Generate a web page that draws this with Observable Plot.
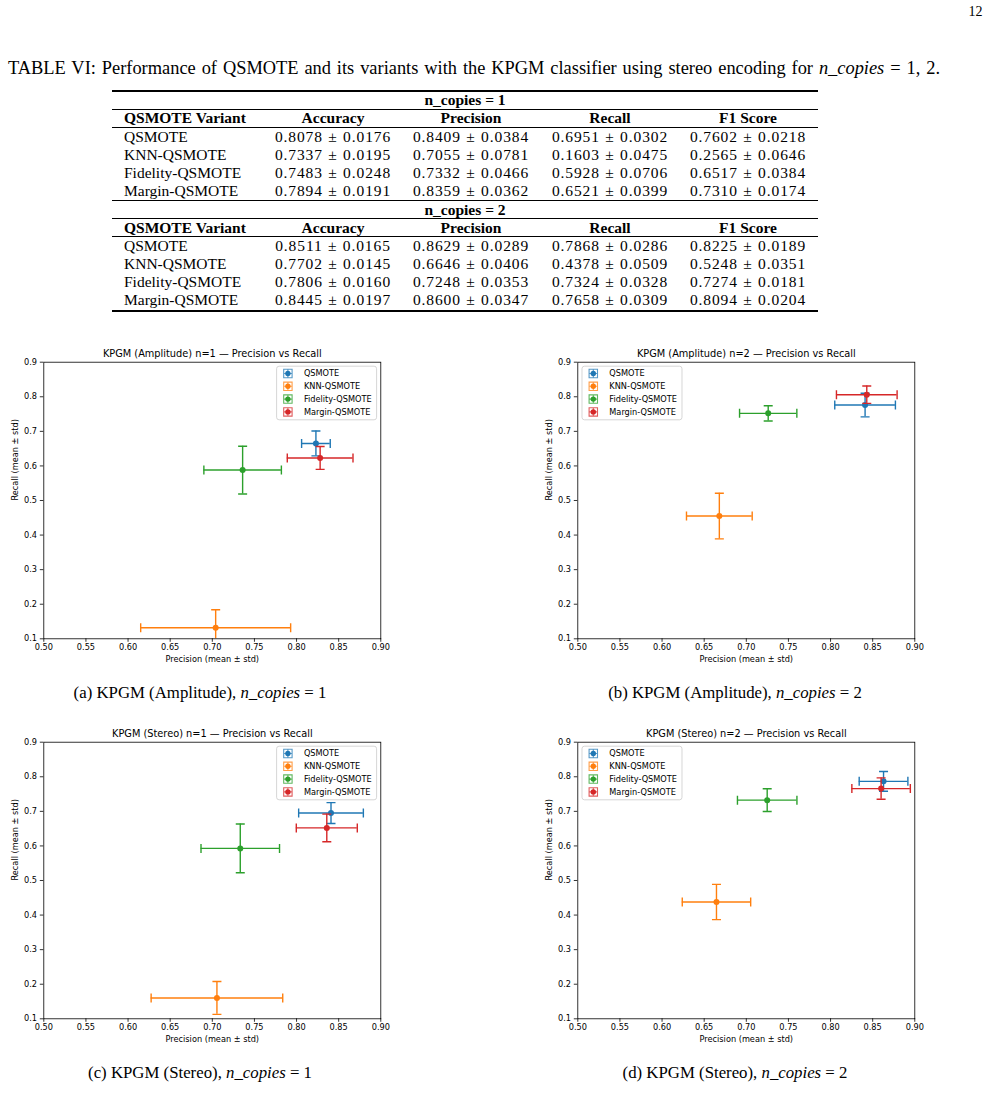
<!DOCTYPE html>
<html><head><meta charset="utf-8">
<script src="https://cdn.jsdelivr.net/npm/d3@7"></script>
<script src="https://cdn.jsdelivr.net/npm/@observablehq/plot@0.6"></script>
<style>
html,body{margin:0;padding:0;background:#fff;}
#page{position:relative;width:988px;height:1096px;overflow:hidden;font-family:"Liberation Serif","Times New Roman",serif;color:#000;}
.abs{position:absolute;white-space:nowrap;line-height:1;}
.num{letter-spacing:0.9px;word-spacing:0.6px;}
.rule{position:absolute;background:#000;left:112px;width:706px;}
.chart{position:absolute;}
</style></head><body><div id="page"></div>
<script>
// ---------- data ----------
const variants = ["QSMOTE", "KNN-QSMOTE", "Fidelity-QSMOTE", "Margin-QSMOTE"];
const metricNames = ["Accuracy", "Precision", "Recall", "F1 Score"];

// Stereo encoding (table VI)
const accuracyN1 = [0.8078, 0.7337, 0.7483, 0.7894];
const accuracyStdN1 = [0.0176, 0.0195, 0.0248, 0.0191];
const precisionN1 = [0.8409, 0.7055, 0.7332, 0.8359];
const precisionStdN1 = [0.0384, 0.0781, 0.0466, 0.0362];
const recallN1 = [0.6951, 0.1603, 0.5928, 0.6521];
const recallStdN1 = [0.0302, 0.0475, 0.0706, 0.0399];
const f1N1 = [0.7602, 0.2565, 0.6517, 0.7310];
const f1StdN1 = [0.0218, 0.0646, 0.0384, 0.0174];

const accuracyN2 = [0.8511, 0.7702, 0.7806, 0.8445];
const accuracyStdN2 = [0.0165, 0.0145, 0.0160, 0.0197];
const precisionN2 = [0.8629, 0.6646, 0.7248, 0.8600];
const precisionStdN2 = [0.0289, 0.0406, 0.0353, 0.0347];
const recallN2 = [0.7868, 0.4378, 0.7324, 0.7658];
const recallStdN2 = [0.0286, 0.0509, 0.0328, 0.0309];
const f1N2 = [0.8225, 0.5248, 0.7274, 0.8094];
const f1StdN2 = [0.0189, 0.0351, 0.0181, 0.0204];

// Amplitude encoding
const ampPrecisionN1 = [0.823, 0.704, 0.736, 0.828];
const ampPrecisionStdN1 = [0.017, 0.089, 0.046, 0.039];
const ampRecallN1 = [0.665, 0.132, 0.588, 0.623];
const ampRecallStdN1 = [0.036, 0.052, 0.069, 0.033];
const ampPrecisionN2 = [0.841, 0.668, 0.726, 0.843];
const ampPrecisionStdN2 = [0.036, 0.039, 0.034, 0.036];
const ampRecallN2 = [0.776, 0.455, 0.752, 0.806];
const ampRecallStdN2 = [0.034, 0.066, 0.022, 0.025];

const xTicks = [0.50, 0.55, 0.60, 0.65, 0.70, 0.75, 0.80, 0.85, 0.90];
const yTicks = [0.1, 0.2, 0.3, 0.4, 0.5, 0.6, 0.7, 0.8, 0.9];
const colors = ["#1f77b4", "#ff7f0e", "#2ca02c", "#d62728"];

// ---------- page helpers ----------
const page = document.getElementById("page");
function put(html, x, y, o = {}) {
  const d = document.createElement("div");
  d.className = "abs" + (o.cls ? " " + o.cls : "");
  d.innerHTML = html;
  d.style.left = x + "px";
  d.style.top = y + "px";
  d.style.fontSize = (o.size || 15.5) + "px";
  if (o.bold) d.style.fontWeight = "bold";
  const tx = o.anchor === "start" ? "0" : o.anchor === "end" ? "-100%" : "-50%";
  d.style.transform = `translate(${tx},-50%)`;
  page.appendChild(d);
  return d;
}
function rule(y, t) {
  const r = document.createElement("div");
  r.className = "rule";
  r.style.top = (y - t / 2) + "px";
  r.style.height = t + "px";
  page.appendChild(r);
}

put("12", 975.5, 12, {size: 14});
const cap = put('TABLE VI: Performance of QSMOTE and its variants with the KPGM classifier using stereo encoding for <i>n_copies</i> = 1, 2.', 8, 68, {size: 18.4, anchor: "start"});
cap.style.width = "932px";
cap.style.whiteSpace = "normal";
cap.style.textAlign = "justify";
cap.style.textAlignLast = "justify";

// ---------- table ----------
const colX = [333, 471, 610, 748];
function block(label, yTop, means, stds) {
  rule(yTop, 1.3);
  put(label, 465, yTop + 9, {bold: true});
  rule(yTop + 18, 0.8);
  put("QSMOTE Variant", 124, yTop + 27.3, {bold: true, anchor: "start"});
  metricNames.forEach((m, j) => put(m, colX[j], yTop + 27.3, {bold: true}));
  rule(yTop + 36, 0.8);
  variants.forEach((v, i) => {
    const y = yTop + 45.8 + i * 18;
    put(v, 124, y, {anchor: "start"});
    means.forEach((arr, j) => put(arr[i].toFixed(4) + " ± " + stds[j][i].toFixed(4), colX[j], y, {cls: "num"}));
  });
}
block("n_copies = 1", 91, [accuracyN1, precisionN1, recallN1, f1N1], [accuracyStdN1, precisionStdN1, recallStdN1, f1StdN1]);
block("n_copies = 2", 200.5, [accuracyN2, precisionN2, recallN2, f1N2], [accuracyStdN2, precisionStdN2, recallStdN2, f1StdN2]);
rule(311, 1.3);

// ---------- charts ----------
const capV = {draw(ctx, size) { const h = Math.sqrt(size / Math.PI); ctx.moveTo(0, -h); ctx.lineTo(0, h); }};
const capH = {draw(ctx, size) { const h = Math.sqrt(size / Math.PI); ctx.moveTo(-h, 0); ctx.lineTo(h, 0); }};
const glyph = {draw(ctx, size) {
  const h = Math.sqrt(size / Math.PI);
  ctx.moveTo(-h, 0); ctx.lineTo(h, 0);
  ctx.moveTo(0, -h); ctx.lineTo(0, h);
  ctx.moveTo(-h, -h); ctx.lineTo(h, -h); ctx.lineTo(h, h); ctx.lineTo(-h, h); ctx.closePath();
}};

function makeChart(title, prec, precStd, rec, recStd, legendLeft, left, top) {
  const W = 400.3, H = 328.3, mL = 43.3, mR = 20, mT = 21.7, mB = 30;
  const fw = W - mL - mR, fh = H - mT - mB;
  const lw = 1.4;
  const seriesMarks = variants.flatMap((name, i) => {
    const d = [{name, x: prec[i], ex: precStd[i], y: rec[i], ey: recStd[i]}];
    const c = colors[i];
    return [
      Plot.ruleY(d, {y: "y", x1: (p) => p.x - p.ex, x2: (p) => p.x + p.ex, stroke: c, strokeWidth: lw, clip: true}),
      Plot.ruleX(d, {x: "x", y1: (p) => p.y - p.ey, y2: (p) => p.y + p.ey, stroke: c, strokeWidth: lw, clip: true}),
      Plot.dot(d, {x: (p) => p.x - p.ex, y: "y", symbol: capV, r: 4.5, stroke: c, fill: "none", strokeWidth: lw, clip: true}),
      Plot.dot(d, {x: (p) => p.x + p.ex, y: "y", symbol: capV, r: 4.5, stroke: c, fill: "none", strokeWidth: lw, clip: true}),
      Plot.dot(d, {x: "x", y: (p) => p.y - p.ey, symbol: capH, r: 4.5, stroke: c, fill: "none", strokeWidth: lw, clip: true}),
      Plot.dot(d, {x: "x", y: (p) => p.y + p.ey, symbol: capH, r: 4.5, stroke: c, fill: "none", strokeWidth: lw, clip: true}),
      Plot.dot(d, {x: "x", y: "y", r: 3, fill: c, stroke: "none"})
    ];
  });
  // legend geometry (relative to the frame)
  const boxW = 100, boxH = 53.6, inset = 4.2;
  const boxL = legendLeft ? inset : fw - inset - boxW;
  const legendMarks = [
    Plot.frame({insetLeft: boxL, insetRight: fw - boxL - boxW, insetTop: 4, insetBottom: fh - 4 - boxH, rx: 2.5, fill: "white", fillOpacity: 0.85, stroke: "#cccccc", strokeWidth: 0.8}),
    ...variants.flatMap((name, i) => {
      const dy = 11.3 + i * 12.8;
      return [
        Plot.dot([name], {frameAnchor: "top-left", dx: boxL + 11.3, dy, symbol: glyph, r: 4.2, stroke: colors[i], strokeWidth: 1.1, fill: "none", strokeOpacity: 0.75}),
        Plot.dot([name], {frameAnchor: "top-left", dx: boxL + 11.3, dy, r: 2.7, fill: colors[i], stroke: "none"}),
        Plot.text([name], {frameAnchor: "top-left", lineAnchor: "middle", dx: boxL + 27.3, dy, text: (t) => t, textAnchor: "start", fontSize: 8.2, fill: "black"})
      ];
    })
  ];
  const svg = Plot.plot({
    width: W, height: H,
    marginLeft: mL, marginRight: mR, marginTop: mT, marginBottom: mB,
    x: {domain: [0.5, 0.9]},
    y: {domain: [0.1, 0.9]},
    style: {fontFamily: "'DejaVu Sans', sans-serif", fontSize: "8.2px", color: "black", background: "transparent", overflow: "visible"},
    marks: [
      ...seriesMarks,
      Plot.axisX({ticks: xTicks, tickFormat: (d) => d.toFixed(2), tickSize: 3.5, tickPadding: 1.5, strokeWidth: 0.8, label: null, fontSize: 8.2}),
      Plot.axisY({ticks: yTicks, tickFormat: (d) => d.toFixed(1), tickSize: 3.5, tickPadding: 3.3, strokeWidth: 0.8, label: null, fontSize: 8.2}),
      Plot.frame({stroke: "black", strokeWidth: 0.8}),
      Plot.text([title], {frameAnchor: "top", lineAnchor: "middle", dy: -8.6, text: (t) => t, fontSize: 9.8, fill: "black"}),
      Plot.text(["Precision (mean ± std)"], {frameAnchor: "bottom", lineAnchor: "middle", dy: 20.2, text: (t) => t, fontSize: 8.2, fill: "black"}),
      Plot.text(["Recall (mean ± std)"], {frameAnchor: "left", lineAnchor: "middle", dx: -28, rotate: -90, text: (t) => t, fontSize: 8.2, fill: "black"}),
      ...legendMarks
    ]
  });
  svg.classList.add("chart");
  svg.style.left = left + "px";
  svg.style.top = top + "px";
  svg.style.position = "absolute";
  page.appendChild(svg);
}

makeChart("KPGM (Amplitude) n=1 — Precision vs Recall", ampPrecisionN1, ampPrecisionStdN1, ampRecallN1, ampRecallStdN1, false, 0, 340);
makeChart("KPGM (Amplitude) n=2 — Precision vs Recall", ampPrecisionN2, ampPrecisionStdN2, ampRecallN2, ampRecallStdN2, true, 534.4, 340);
makeChart("KPGM (Stereo) n=1 — Precision vs Recall", precisionN1, precisionStdN1, recallN1, recallStdN1, false, 0, 720);
makeChart("KPGM (Stereo) n=2 — Precision vs Recall", precisionN2, precisionStdN2, recallN2, recallStdN2, true, 534.4, 720);

// ---------- sub-captions ----------
put('(a) KPGM (Amplitude), <i>n_copies</i> = 1', 200, 692.7, {size: 16.8});
put('(b) KPGM (Amplitude), <i>n_copies</i> = 2', 735, 692.7, {size: 16.8});
put('(c) KPGM (Stereo), <i>n_copies</i> = 1', 200, 1073, {size: 16.8});
put('(d) KPGM (Stereo), <i>n_copies</i> = 2', 735, 1073, {size: 16.8});
</script></body></html>
